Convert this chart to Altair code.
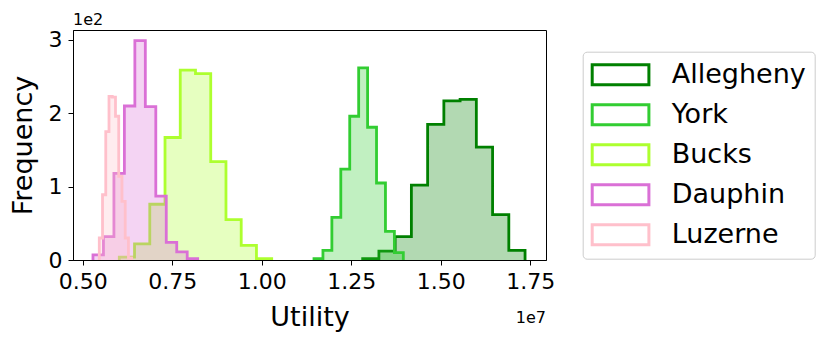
import altair as alt
import pandas as pd
import numpy as np

# ---- data (utility values, frequencies) ----
counties = ["Allegheny", "York", "Bucks", "Dauphin", "Luzerne"]
colors = ["#008000", "#32cd32", "#adff2f", "#da70d6", "#ffc0cb"]
bin_lo = [12.82e6, 11.461e6, 6.023e6, 5.288e6, 5.464e6]
bin_hi = [17.355e6, 13.955e6, 10.279e6, 8.212e6, 6.369e6]
allegheny_counts = [2, 12, 32, 102, 185, 217, 219, 154, 62, 13]
york_counts = [2, 13, 58, 124, 196, 262, 181, 105, 39, 10]
bucks_counts = [4, 22, 76, 167, 259, 254, 134, 55, 20, 2]
dauphin_counts = [7, 32, 118, 210, 299, 209, 87, 24, 11, 2]
luzerne_counts = [30, 89, 175, 223, 222, 196, 114, 80, 30, 3]
all_counts = [allegheny_counts, york_counts, bucks_counts, dauphin_counts, luzerne_counts]

x_ticks = [5e6, 7.5e6, 10e6, 12.5e6, 15e6, 17.5e6]
y_ticks = [0, 100, 200, 300]

FONT = "DejaVu Sans"

xenc = alt.X(
    "x:Q",
    scale=alt.Scale(domain=[4.73e6, 17.94e6], nice=False, zero=False),
    axis=alt.Axis(values=x_ticks, labelExpr="format(datum.value/1e7, '.2f')",
                  title="Utility", grid=False, tickSize=5, tickColor="black",
                  domainColor="black", labelFontSize=22, labelColor="black",
                  labelPadding=6, titleFontSize=27, titleColor="black",
                  titleFontWeight="normal", titleBaseline="alphabetic", titleY=65,
                  labelFlush=False),
)
yenc = alt.Y(
    "y:Q",
    scale=alt.Scale(domain=[0, 313.6], nice=False),
    axis=alt.Axis(values=y_ticks, labelExpr="format(datum.value/100, 'd')",
                  title="Frequency", grid=False, tickSize=5, tickColor="black",
                  domainColor="black", labelFontSize=22, labelColor="black",
                  labelPadding=6, titleFontSize=27, titleColor="black",
                  titleFontWeight="normal", titleX=-36, titleY=115,
                  titleBaseline="bottom", labelFlush=False),
)

legend = alt.Legend(
    title=None, orient="none", legendX=509.7, legendY=21.7,
    symbolType="M-1,-0.74H3.2V0.74H-1Z", symbolSize=729,
    symbolStrokeWidth=3, symbolFillColor="transparent",
    symbolOpacity=1,
    labelFontSize=27, labelFont=FONT, labelColor="black",
    labelOffset=51, rowPadding=8, padding=8,
    strokeColor="#cccccc", cornerRadius=4, fillColor="white",
    labelLimit=300,
)

layers = []
for name, color, lo, hi, cnt in zip(counties, colors, bin_lo, bin_hi, all_counts):
    edges = np.linspace(lo, hi, len(cnt) + 1)
    area_df = pd.DataFrame({
        "x": list(edges),
        "y": list(cnt) + [cnt[-1]],
    })
    line_df = pd.DataFrame({
        "x": [edges[0]] + list(edges) + [edges[-1]],
        "y": [0] + list(cnt) + [cnt[-1], 0],
        "county": name,
    })
    line_df["idx"] = range(len(line_df))

    area = alt.Chart(area_df).mark_area(
        interpolate="step-after", fillOpacity=0.3, fill=color
    ).encode(x=xenc, y=yenc)
    line = alt.Chart(line_df).mark_line(
        interpolate="step-after", strokeWidth=2.8, strokeJoin="miter"
    ).encode(
        x=xenc, y=yenc,
        order=alt.Order("idx:Q"),
        stroke=alt.Stroke(
            "county:N",
            scale=alt.Scale(domain=counties, range=colors),
            legend=legend,
        ),
    )
    layers += [area, line]

off_y = alt.Chart(pd.DataFrame({"t": ["1e2"]})).mark_text(
    align="left", baseline="alphabetic", fontSize=16, font=FONT, color="black"
).encode(x=alt.value(0), y=alt.value(-5), text="t:N")

off_x = alt.Chart(pd.DataFrame({"t": ["1e7"]})).mark_text(
    align="right", baseline="alphabetic", fontSize=16, font=FONT, color="black"
).encode(x=alt.value(473), y=alt.value(293), text="t:N")

chart = alt.layer(*layers, off_y, off_x).properties(
    width=473, height=230,
    autosize=alt.AutoSizeParams(type="none"),
    padding={"left": 65, "top": 22, "right": 275, "bottom": 80},
).configure(font=FONT).configure_view(
    stroke="black", strokeWidth=1
)

chart.save("out.html", embed_options={"renderer": "svg", "actions": False})
